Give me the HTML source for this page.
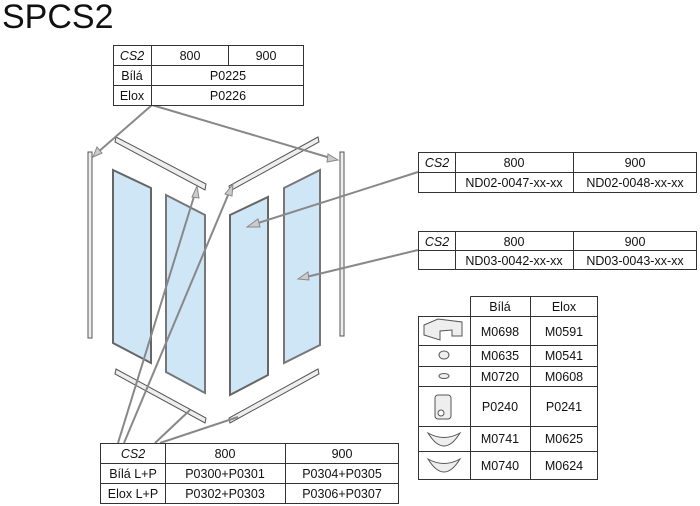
<!DOCTYPE html>
<html><head><meta charset="utf-8"><style>
html,body{margin:0;padding:0;background:#fff}
svg{display:block}
text{font-family:"Liberation Sans",sans-serif;font-size:12.5px;fill:#111}
</style></head><body>
<svg width="700" height="506" viewBox="0 0 700 506" xmlns="http://www.w3.org/2000/svg">
<text x="2" y="28" style="font-size:34px;letter-spacing:0px">SPCS2</text>

<g fill="none" stroke="#555" stroke-width="1">
<rect x="88" y="152" width="4" height="186" fill="#eee"/>
<rect x="340" y="152" width="4" height="184" fill="#eee"/>
<polygon points="116,137 206,184 205,190 115,142" fill="#eee"/>
<polygon points="318,137 229,186 230,191 319,142" fill="#eee"/>
<polygon points="116,369 206,418 205,423 115,374" fill="#eee"/>
<polygon points="318,369 229,418 230,423 319,374" fill="#eee"/>
<polygon points="113,170 151,188 151,363 113,343" fill="#cfe6f6" stroke="#666" stroke-width="2"/>
<polygon points="166,195 205,215 205,393 166,372" fill="#cfe6f6" stroke="#777" stroke-width="2"/>
<polygon points="230,215 268,197 268,375 230,395" fill="#cfe6f6" stroke="#666" stroke-width="2"/>
<polygon points="284,188 320,170 320,345 284,363" fill="#cfe6f6" stroke="#777" stroke-width="2"/>
</g>
<g stroke="#888" stroke-width="2" fill="#ccc">
<line x1="152" y1="105" x2="97" y2="153"/>
<line x1="152" y1="105" x2="334" y2="159"/>
<line x1="418" y1="172" x2="252" y2="225"/>
<line x1="418" y1="250" x2="302" y2="278"/>
<line x1="118" y1="443" x2="196" y2="190"/>
<line x1="124" y1="443" x2="231" y2="188"/>
<line x1="155" y1="443" x2="190" y2="410"/>
<line x1="160" y1="443" x2="238" y2="417"/>
</g>
<g fill="#ccc" stroke="#888" stroke-width="1">
<polygon points="93,157 97,147 102,153"/>
<polygon points="338,160 328,154 327,162"/>
<polygon points="247,227 258,219 260,227"/>
<polygon points="298,279 308,272 309,280"/>
<polygon points="197,186 192,197 199,198"/>
<polygon points="233,184 225,194 232,196"/>
</g>

<g fill="#fff" stroke="#333" stroke-width="1">
<rect x="113.5" y="45.5" width="190" height="60"/>
<path d="M113.5 65.5H303.5M113.5 85.5H303.5M151.5 45.5V105.5M228.5 45.5V65.5" fill="none"/>
<rect x="418.5" y="152.5" width="278" height="40"/>
<path d="M418.5 172.5H696.5M455.5 152.5V192.5M573.5 152.5V192.5" fill="none"/>
<rect x="418.5" y="231.5" width="278" height="38"/>
<path d="M418.5 250.5H696.5M455.5 231.5V269.5M573.5 231.5V269.5" fill="none"/>
<rect x="100.5" y="443.5" width="298" height="60"/>
<path d="M100.5 463.5H398.5M100.5 483.5H398.5M165.5 443.5V503.5M285.5 443.5V503.5" fill="none"/>
<path d="M470.5 296.5H597.5V479.5H418.5V316.5H470.5V296.5M418.5 316.5H597.5M418.5 345.5H597.5M418.5 366.5H597.5M418.5 386.5H597.5M418.5 426.5H597.5M418.5 451.5H597.5M470.5 296.5V479.5M530.5 296.5V479.5" fill="#fff"/>
</g>
<g fill="#eee" stroke="#555" stroke-width="1">
<path d="M424 325 L438 319 L462 322 L462 336 L452 336 L452 330 L440 331 L440 340 L424 335Z"/>
<ellipse cx="444" cy="355" rx="5" ry="4"/>
<ellipse cx="444" cy="376" rx="5" ry="2.5"/>
<rect x="435" y="395" width="16" height="24" rx="3"/>
<circle cx="441" cy="413" r="3" fill="#fff"/>
<path d="M428 433 Q444 442 460 433 Q452 446 444 446 Q436 446 428 433Z"/>
<path d="M428 459 Q444 468 460 459 Q452 472 444 472 Q436 472 428 459Z"/>
</g>

<g text-anchor="middle">
<text x="132" y="60" font-style="italic">CS2</text><text x="190" y="60">800</text><text x="266" y="60">900</text>
<text x="132" y="80">Bílá</text><text x="228" y="80">P0225</text>
<text x="132" y="100">Elox</text><text x="228" y="100">P0226</text>

<text x="437" y="167" font-style="italic">CS2</text><text x="514" y="167">800</text><text x="635" y="167">900</text>
<text x="514" y="187">ND02-0047-xx-xx</text><text x="635" y="187">ND02-0048-xx-xx</text>
<text x="437" y="246" font-style="italic">CS2</text><text x="514" y="246">800</text><text x="635" y="246">900</text>
<text x="514" y="265">ND03-0042-xx-xx</text><text x="635" y="265">ND03-0043-xx-xx</text>

<text x="133" y="458" font-style="italic">CS2</text><text x="225" y="458">800</text><text x="342" y="458">900</text>
<text x="133" y="478">Bílá L+P</text><text x="225" y="478">P0300+P0301</text><text x="342" y="478">P0304+P0305</text>
<text x="133" y="498">Elox L+P</text><text x="225" y="498">P0302+P0303</text><text x="342" y="498">P0306+P0307</text>

<text x="500" y="311">Bílá</text><text x="564" y="311">Elox</text>
<text x="500" y="336">M0698</text><text x="564" y="336">M0591</text>
<text x="500" y="360">M0635</text><text x="564" y="360">M0541</text>
<text x="500" y="381">M0720</text><text x="564" y="381">M0608</text>
<text x="500" y="411">P0240</text><text x="564" y="411">P0241</text>
<text x="500" y="443">M0741</text><text x="564" y="443">M0625</text>
<text x="500" y="470">M0740</text><text x="564" y="470">M0624</text>
</g>
</svg>
</body></html>
